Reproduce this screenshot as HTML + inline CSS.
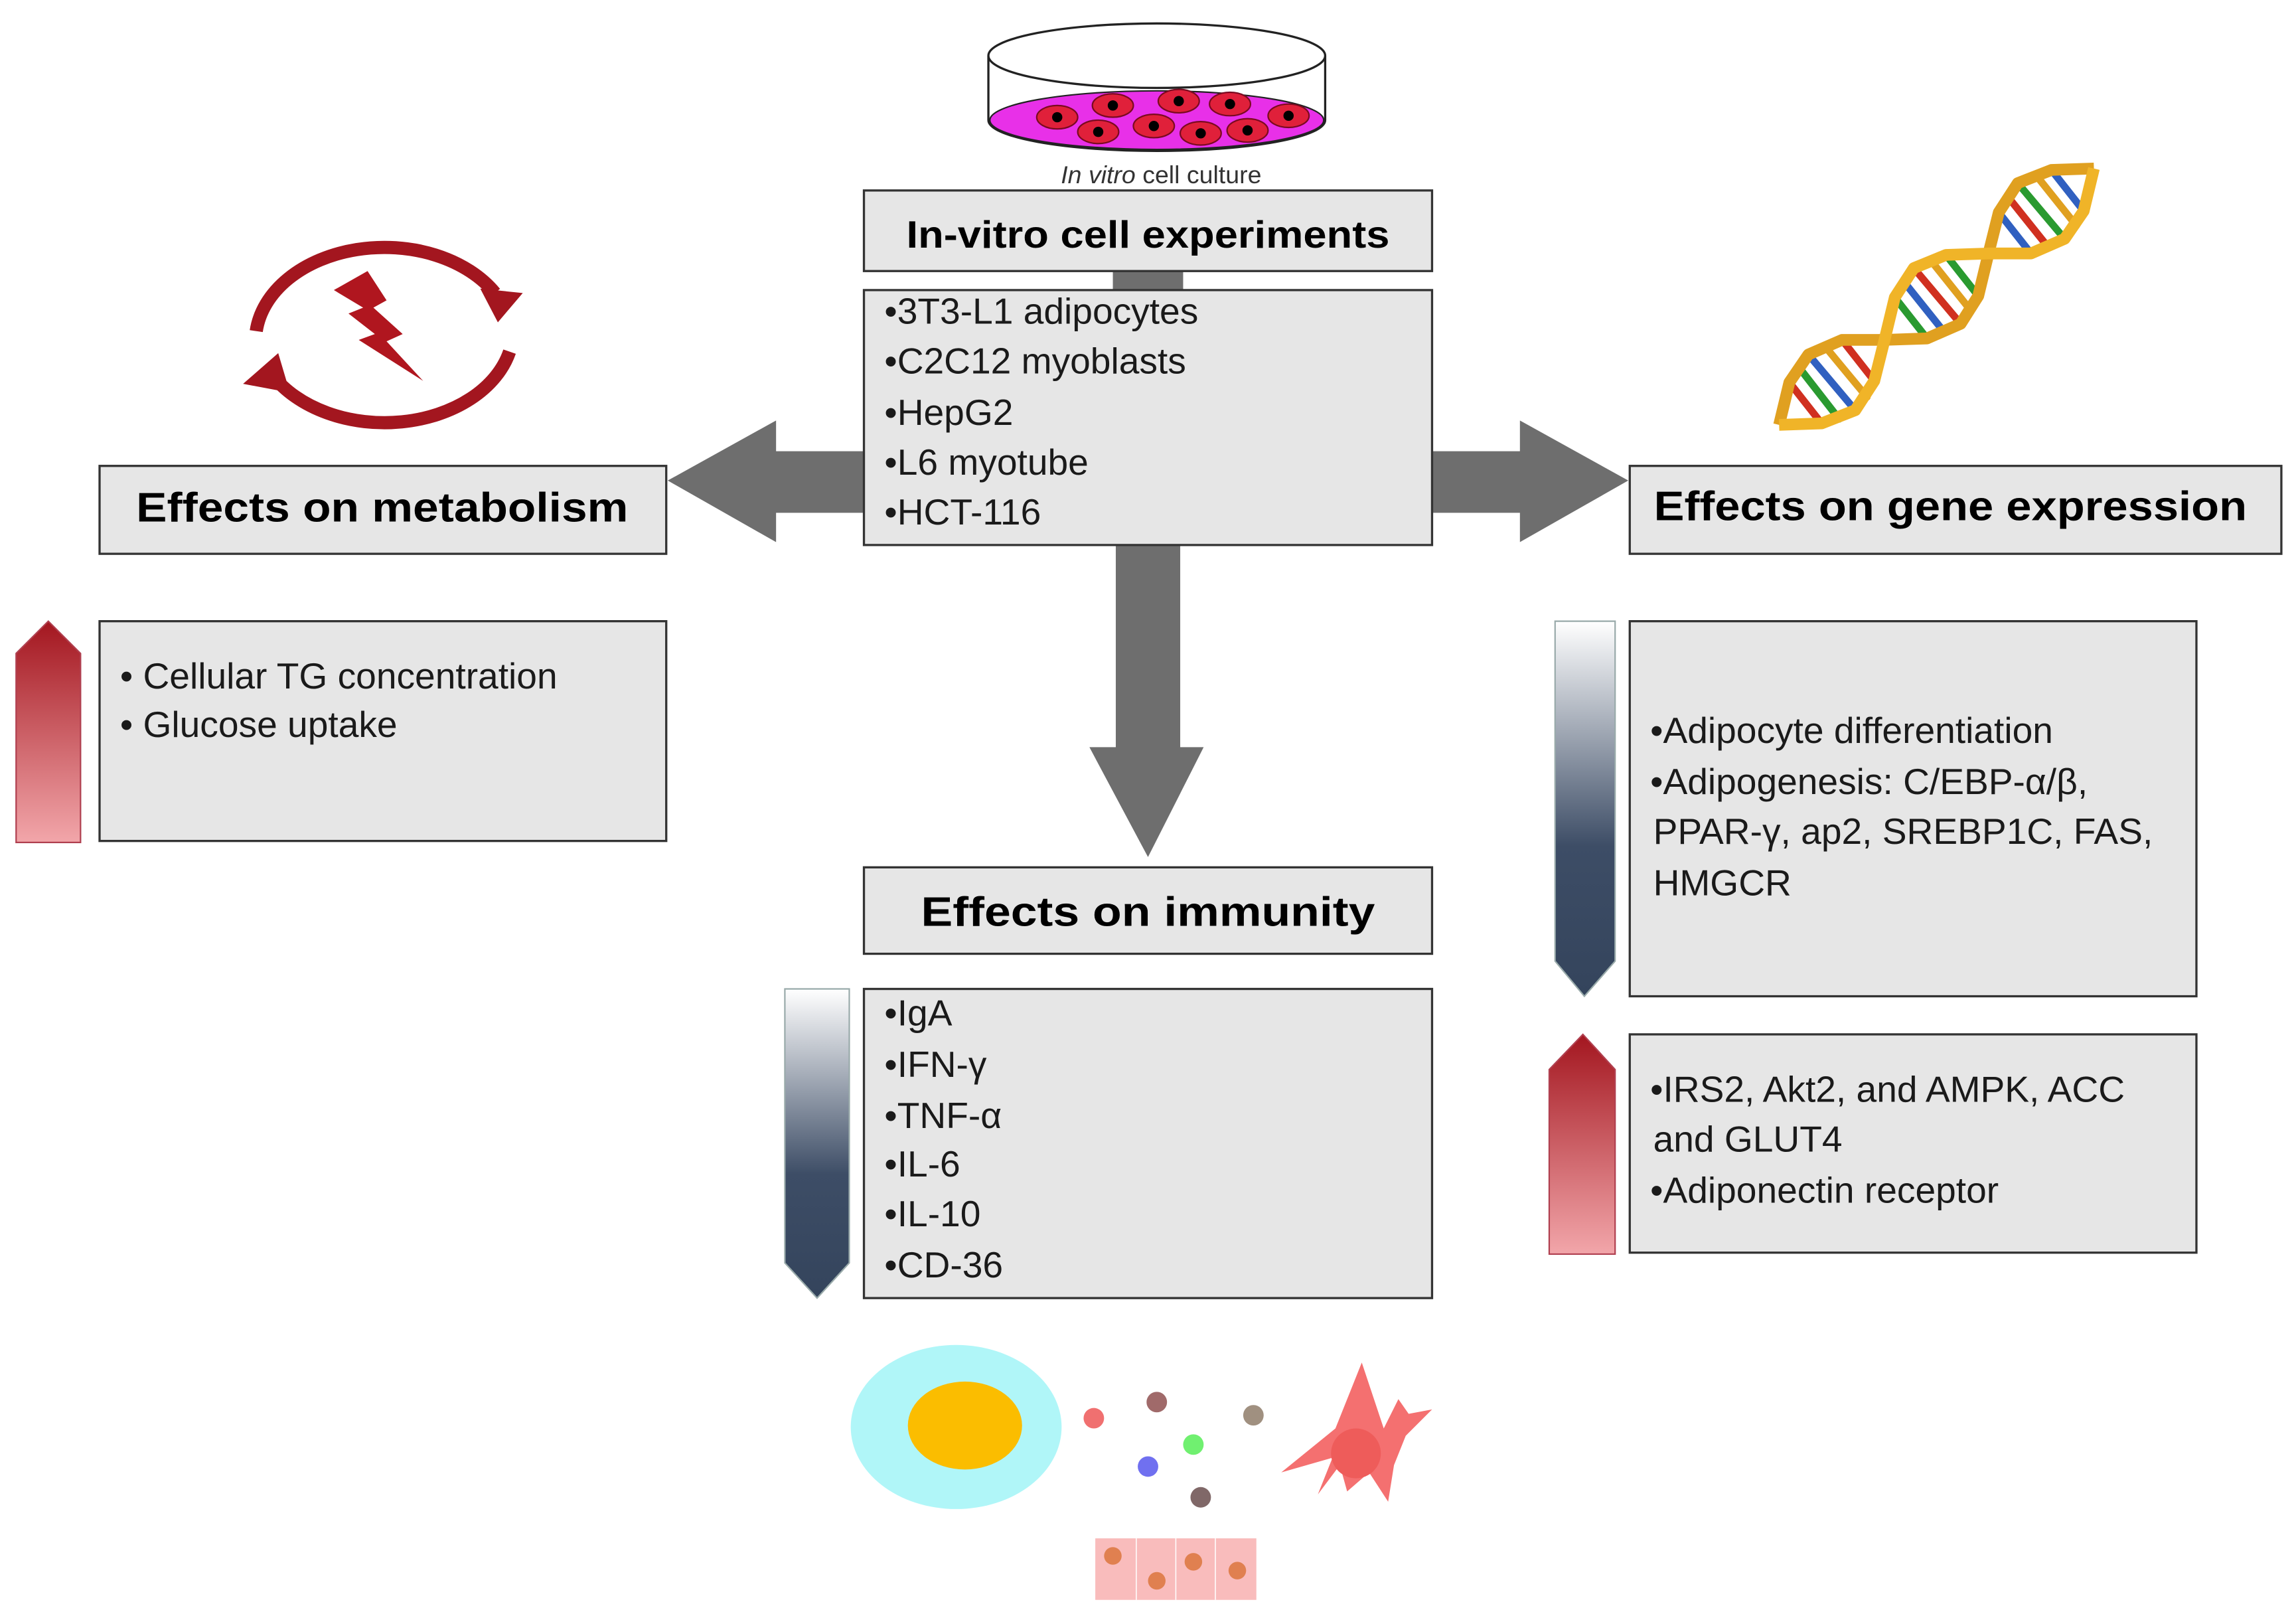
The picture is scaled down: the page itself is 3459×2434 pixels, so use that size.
<!DOCTYPE html>
<html><head><meta charset="utf-8"><style>
html,body{margin:0;padding:0;background:#fff;}
svg{display:block;}
text{font-family:"Liberation Sans",sans-serif;fill:#1a1a1a;}
.b{font-weight:bold;fill:#000;}
</style></head><body>
<svg width="3459" height="2434" viewBox="0 0 1568 1103" preserveAspectRatio="none" xmlns="http://www.w3.org/2000/svg">
<defs>
<linearGradient id="red" x1="0" y1="0" x2="0" y2="1"><stop offset="0" stop-color="#a3161f"/><stop offset="1" stop-color="#f2a6aa"/></linearGradient>
<linearGradient id="blue" x1="0" y1="0" x2="0" y2="1"><stop offset="0" stop-color="#ffffff"/><stop offset="0.6" stop-color="#3d4d66"/><stop offset="1" stop-color="#34445c"/></linearGradient>
</defs>

<!-- dish -->
<path d="M675,38 L675,82 A115,21 0 0 0 905,82 L905,38" fill="#fff" stroke="#222" stroke-width="1.5"/>
<ellipse cx="790" cy="82" rx="114" ry="20" fill="#e830e8" stroke="#222" stroke-width="1"/>
<ellipse cx="790" cy="38" rx="115" ry="22" fill="#fff" stroke="#222" stroke-width="1.5"/>
<g fill="#e0203a" stroke="#7a0a20" stroke-width="1">
<ellipse cx="722" cy="80" rx="14" ry="8"/><ellipse cx="760" cy="72" rx="14" ry="8"/><ellipse cx="805" cy="69" rx="14" ry="8"/><ellipse cx="840" cy="71" rx="14" ry="8"/><ellipse cx="880" cy="79" rx="14" ry="8"/>
<ellipse cx="750" cy="90" rx="14" ry="8"/><ellipse cx="788" cy="86" rx="14" ry="8"/><ellipse cx="820" cy="91" rx="14" ry="8"/><ellipse cx="852" cy="89" rx="14" ry="8"/>
</g>
<g fill="#000"><circle cx="722" cy="80" r="3.5"/><circle cx="760" cy="72" r="3.5"/><circle cx="805" cy="69" r="3.5"/><circle cx="840" cy="71" r="3.5"/><circle cx="880" cy="79" r="3.5"/><circle cx="750" cy="90" r="3.5"/><circle cx="788" cy="86" r="3.5"/><circle cx="820" cy="91" r="3.5"/><circle cx="852" cy="89" r="3.5"/></g>
<text x="793" y="125" font-size="17" text-anchor="middle" style="fill:#333"><tspan font-style="italic">In vitro</tspan> cell culture</text>

<!-- connectors -->
<rect x="760" y="185" width="48" height="14" fill="#6e6e6e"/>
<polygon points="590,308 530,308 530,287 456,328 530,370 530,350 590,350" fill="#6e6e6e"/>
<polygon points="978,308 1038,308 1038,287 1112,328 1038,370 1038,350 978,350" fill="#6e6e6e"/>
<polygon points="762,372 806,372 806,510 822,510 784,585 744,510 762,510" fill="#6e6e6e"/>

<!-- title box -->
<rect x="590" y="130" width="388" height="55" fill="#e6e6e6" stroke="#333" stroke-width="1.5"/>
<text class="b" x="784" y="169" font-size="26" text-anchor="middle" textLength="330" lengthAdjust="spacingAndGlyphs">In-vitro cell experiments</text>
<rect x="590" y="198" width="388" height="174" fill="#e6e6e6" stroke="#333" stroke-width="1.5"/>
<g font-size="25">
<text x="604" y="221">•3T3-L1 adipocytes</text>
<text x="604" y="255">•C2C12 myoblasts</text>
<text x="604" y="290">•HepG2</text>
<text x="604" y="324">•L6 myotube</text>
<text x="604" y="358">•HCT-116</text>
</g>

<!-- metabolism icon -->
<g fill="none" stroke="#a3161f" stroke-width="9">
<path d="M175,226 A88,64 0 0 1 338,200"/>
<path d="M348,240 A88,64 0 0 1 186,256"/>
</g>
<polygon points="328,197 357,200 340,220" fill="#a3161f"/>
<polygon points="166,262 190,241 198,268" fill="#a3161f"/>
<polygon points="228,198 251,185 264,205 255,210 275,228 264,233 289,260 245,232 256,228 238,214 248,210" fill="#b0161f"/>

<!-- metabolism -->
<rect x="68" y="318" width="387" height="60" fill="#e6e6e6" stroke="#333" stroke-width="1.5"/>
<text class="b" x="261" y="356" font-size="28" text-anchor="middle" textLength="336" lengthAdjust="spacingAndGlyphs">Effects on metabolism</text>
<polygon points="11,446 33,424 55,446 55,575 11,575" fill="url(#red)" stroke="#b04050" stroke-width="1"/>
<rect x="68" y="424" width="387" height="150" fill="#e6e6e6" stroke="#333" stroke-width="1.5"/>
<g font-size="25"><text x="82" y="470">• Cellular TG concentration</text><text x="82" y="503">• Glucose uptake</text></g>

<!-- DNA double helix -->
<g stroke-width="5" stroke-linecap="round">
<line x1="1244" y1="289" x2="1222" y2="261" stroke="#d03020"/>
<line x1="1256" y1="286" x2="1228" y2="250" stroke="#2a9a30"/>
<line x1="1267" y1="280" x2="1235" y2="242" stroke="#3060c0"/>
<line x1="1275" y1="271" x2="1246" y2="236" stroke="#e0a020"/>
<line x1="1280" y1="260" x2="1258" y2="232" stroke="#d03020"/>
<line x1="1294" y1="203" x2="1316" y2="231" stroke="#2a9a30"/>
<line x1="1300" y1="192" x2="1328" y2="227" stroke="#3060c0"/>
<line x1="1307" y1="183" x2="1339" y2="221" stroke="#d03020"/>
<line x1="1318" y1="177" x2="1346" y2="212" stroke="#e0a020"/>
<line x1="1329" y1="174" x2="1351" y2="202" stroke="#2a9a30"/>
<line x1="1387" y1="173" x2="1365" y2="145" stroke="#3060c0"/>
<line x1="1399" y1="169" x2="1371" y2="134" stroke="#d03020"/>
<line x1="1410" y1="163" x2="1378" y2="125" stroke="#2a9a30"/>
<line x1="1418" y1="154" x2="1390" y2="119" stroke="#e0a020"/>
<line x1="1423" y1="144" x2="1401" y2="116" stroke="#3060c0"/>
</g>
<polyline points="1215,290 1222,261 1235,242 1258,232 1287,232 1316,231 1339,221 1351,202 1358,173 1365,145 1378,125 1401,116 1430,115" fill="none" stroke="#e0a020" stroke-width="8" stroke-linejoin="round"/>
<polyline points="1215,290 1244,289 1267,280 1280,260 1287,232 1294,203 1307,183 1329,174 1358,173 1387,173 1410,163 1423,144 1430,115" fill="none" stroke="#f0b428" stroke-width="8" stroke-linejoin="round"/>

<!-- gene -->
<rect x="1113" y="318" width="445" height="60" fill="#e6e6e6" stroke="#333" stroke-width="1.5"/>
<text class="b" x="1332" y="355" font-size="28" text-anchor="middle" textLength="405" lengthAdjust="spacingAndGlyphs">Effects on gene expression</text>
<polygon points="1062,424 1103,424 1103,656 1082,680 1062,656" fill="url(#blue)" stroke="#9aa" stroke-width="1"/>
<rect x="1113" y="424" width="387" height="256" fill="#e6e6e6" stroke="#333" stroke-width="1.5"/>
<g font-size="25">
<text x="1127" y="507">•Adipocyte differentiation</text>
<text x="1127" y="542">•Adipogenesis: C/EBP-α/β,</text>
<text x="1129" y="576">PPAR-γ, ap2, SREBP1C, FAS,</text>
<text x="1129" y="611">HMGCR</text>
</g>
<polygon points="1058,730 1081,706 1103,730 1103,856 1058,856" fill="url(#red)" stroke="#b04050" stroke-width="1"/>
<rect x="1113" y="706" width="387" height="149" fill="#e6e6e6" stroke="#333" stroke-width="1.5"/>
<g font-size="25">
<text x="1127" y="752">•IRS2, Akt2, and AMPK, ACC</text>
<text x="1129" y="786">and GLUT4</text>
<text x="1127" y="821">•Adiponectin receptor</text>
</g>

<!-- immunity -->
<rect x="590" y="592" width="388" height="59" fill="#e6e6e6" stroke="#333" stroke-width="1.5"/>
<text class="b" x="784" y="632" font-size="28" text-anchor="middle" textLength="310" lengthAdjust="spacingAndGlyphs">Effects on immunity</text>
<polygon points="536,675 580,675 580,862 558,886 536,862" fill="url(#blue)" stroke="#9aa" stroke-width="1"/>
<rect x="590" y="675" width="388" height="211" fill="#e6e6e6" stroke="#333" stroke-width="1.5"/>
<g font-size="25">
<text x="604" y="700">•IgA</text><text x="604" y="735">•IFN-γ</text><text x="604" y="770">•TNF-α</text>
<text x="604" y="803">•IL-6</text><text x="604" y="837">•IL-10</text><text x="604" y="872">•CD-36</text>
</g>

<!-- cells -->
<ellipse cx="653" cy="974" rx="72" ry="56" fill="#b0f6f8"/>
<ellipse cx="659" cy="973" rx="39" ry="30" fill="#fbbd00"/>
<circle cx="747" cy="968" r="7" fill="#f07070"/><circle cx="790" cy="957" r="7" fill="#a06a6a"/>
<circle cx="815" cy="986" r="7" fill="#70f070"/><circle cx="784" cy="1001" r="7" fill="#7070f0"/>
<circle cx="820" cy="1022" r="7" fill="#806868"/><circle cx="856" cy="966" r="7" fill="#a09080"/>
<path d="M930,930 L945,975 L955,955 L962,965 L978,962 L960,980 L952,1000 L948,1025 L935,1005 L920,1018 L915,1000 L900,1020 L910,995 L875,1005 L912,975 Z" fill="#f47070"/>
<circle cx="926" cy="992" r="17" fill="#ee5c5a"/>
<rect x="748" y="1050" width="110" height="42" fill="#f9bcbc"/>
<g stroke="#fff" stroke-width="0.7"><line x1="776" y1="1050" x2="776" y2="1092"/><line x1="803" y1="1050" x2="803" y2="1092"/><line x1="830" y1="1050" x2="830" y2="1092"/></g>
<g fill="#e08050"><circle cx="760" cy="1062" r="6"/><circle cx="790" cy="1079" r="6"/><circle cx="815" cy="1066" r="6"/><circle cx="845" cy="1072" r="6"/></g>
</svg>
</body></html>
